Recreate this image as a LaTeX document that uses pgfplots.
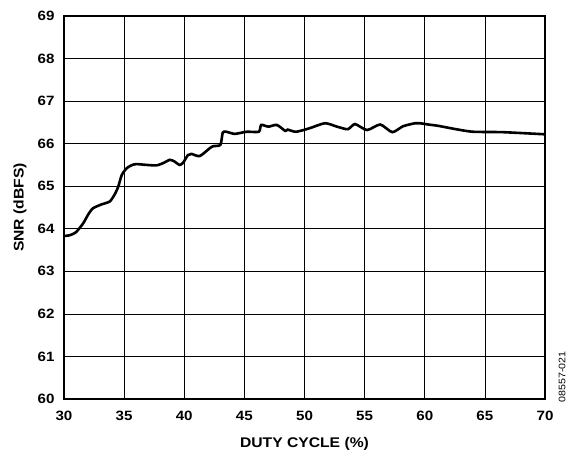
\documentclass[border=0pt]{standalone}
\usepackage{fontspec}
\setmainfont{Liberation Sans}[FakeStretch=1.12]
\usepackage{pgfplots}
\pgfplotsset{compat=1.18}
\begin{document}
\begin{tikzpicture}
\begin{axis}[
  at={(0pt,0pt)}, anchor=south west,
  width=481pt, height=383pt, scale only axis,
  xmin=30, xmax=70, ymin=60, ymax=69,
  xtick distance=5, ytick distance=1,
  grid=major,
  grid style={black, line width=0.7pt},
  axis line style={line width=1.5pt},
  major tick length=0pt,
  /pgf/number format/assume math mode=true,
  ticklabel style={font=\fontsize{13.5}{15}\selectfont\bfseries},
  xticklabel style={yshift=-9pt},
  yticklabel style={xshift=-6pt},
  xlabel={DUTY CYCLE (\%)},
  ylabel={SNR (dBFS)},
  label style={font=\fontsize{14}{16}\selectfont\bfseries},
  xlabel style={at={(axis description cs:0.5,0)}, anchor=center, yshift=-45pt},
  ylabel style={at={(axis description cs:0,0.5)}, anchor=center, rotate=0, yshift=44pt},
  clip=false,
]
\addplot[black, line width=2.6pt, smooth, tension=0.4] coordinates {
(30.0,63.83) (30.5,63.85) (31.0,63.92) (31.6,64.13) (32.0,64.33) (32.4,64.48)
(33.1,64.57) (33.8,64.64) (34.2,64.80) (34.5,64.98) (34.8,65.26) (35.2,65.42)
(35.6,65.49) (36.0,65.52) (36.9,65.50) (37.7,65.49) (38.3,65.55) (38.8,65.62)
(39.2,65.58) (39.6,65.50) (39.9,65.55) (40.3,65.73) (40.6,65.76) (41.3,65.71)
(42.3,65.93) (43.0,65.97) (43.2,66.26) (43.5,66.28) (44.2,66.23) (45.2,66.28)
(46.2,66.28) (46.4,66.44) (47.0,66.40) (47.7,66.44) (48.4,66.30) (48.6,66.33)
(49.3,66.28) (50.4,66.36) (51.7,66.48) (52.7,66.40) (53.6,66.34) (54.2,66.46)
(55.2,66.32) (56.3,66.45) (57.3,66.27) (58.2,66.41) (59.2,66.48) (59.6,66.48)
(60.3,66.45) (61.1,66.42) (62.6,66.34) (64.0,66.28) (66.5,66.27) (70.0,66.22)
};
\node[rotate=90, font=\fontsize{9.5}{11}\selectfont, anchor=center] at (rel axis cs:1,0) [xshift=22pt, yshift=-17pt] {08557-021};
\end{axis}
\pgfresetboundingbox
\path (-64pt,-56pt) rectangle (509pt,399pt);
\end{tikzpicture}
\end{document}
